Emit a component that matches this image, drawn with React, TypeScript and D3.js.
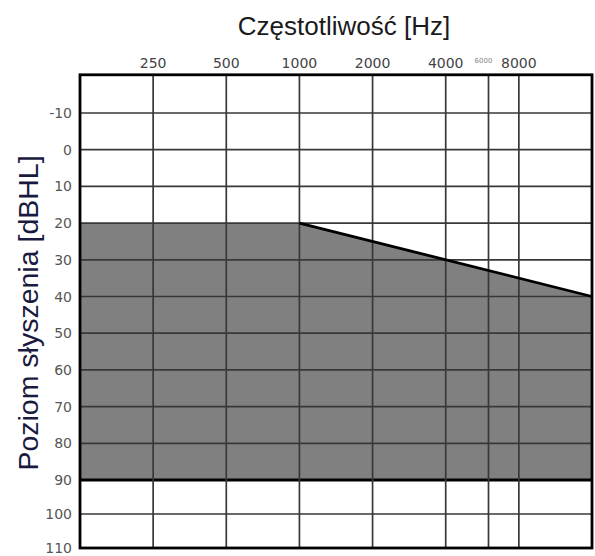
import React from "react";
import * as d3 from "d3";

const freqTicks = [250, 500, 1000, 2000, 4000, 6000, 8000];
const freqLabels = ["250", "500", "1000", "2000", "4000", "6000", "8000"];
const dbTicks = [-10, 0, 10, 20, 30, 40, 50, 60, 70, 80, 90, 100, 110];
const thresholdFreq = [125, 1000, 16000];
const thresholdDb = [20, 20, 40];
const lowerLimitDb = 90;
const freqDomain = [125, 16000];
const dbDomain = [-20, 110];

const W = 595;
const H = 556;

export default function App() {
  const x = d3.scaleLog().domain(freqDomain).range([80, 592]);
  const y = d3.scaleLinear().domain([-10, 90, 110]).range([113, 480, 548]);

  const top = y(dbDomain[0]) - 1.5;
  const bottom = y(dbDomain[1]);
  const left = x(freqDomain[0]);
  const right = x(freqDomain[1]);

  const pts = thresholdFreq.map((f, i) => [f, thresholdDb[i]] as [number, number]);
  const area = d3
    .area<[number, number]>()
    .x((d) => x(d[0]))
    .y0(() => y(lowerLimitDb))
    .y1((d) => y(d[1]));
  const line = d3
    .line<[number, number]>()
    .x((d) => x(d[0]))
    .y((d) => y(d[1]));

  const gridColor = "#383838";

  return (
    <svg
      width={W}
      height={H}
      style={{ position: "absolute", left: 0, top: 0, background: "#fff" }}
    >
      <rect x={0} y={0} width={W} height={H} fill="#fff" />
      <path d={area(pts) || ""} fill="#808080" />
      {dbTicks
        .filter((t) => t > dbDomain[0] && t < dbDomain[1])
        .map((t) => (
          <line
            key={"h" + t}
            x1={left}
            x2={right}
            y1={y(t)}
            y2={y(t)}
            stroke={t === lowerLimitDb ? "#000" : gridColor}
            strokeWidth={t === lowerLimitDb ? 2.8 : 1.7}
          />
        ))}
      {freqTicks.map((f) => (
        <line
          key={"v" + f}
          x1={x(f)}
          x2={x(f)}
          y1={top}
          y2={bottom}
          stroke={gridColor}
          strokeWidth={1.7}
        />
      ))}
      <path
        d={line(pts.slice(1)) || ""}
        fill="none"
        stroke="#000"
        strokeWidth={2.8}
      />
      <rect
        x={left}
        y={top}
        width={right - left}
        height={bottom - top}
        fill="none"
        stroke="#000"
        strokeWidth={2.8}
      />
      {freqTicks.map((f, i) =>
        f === 6000 ? (
          <text
            key={"fl" + f}
            x={x(f) - 5}
            y={63}
            textAnchor="middle"
            fontFamily="DejaVu Sans"
            fontSize={7}
            fill="#888"
          >
            {freqLabels[i]}
          </text>
        ) : (
          <text
            key={"fl" + f}
            x={x(f)}
            y={68}
            textAnchor="middle"
            fontFamily="DejaVu Sans"
            fontSize={14}
            fill="#444"
          >
            {freqLabels[i]}
          </text>
        )
      )}
      {dbTicks.map((t) => (
        <text
          key={"dl" + t}
          x={72}
          y={y(t)}
          dy="0.36em"
          textAnchor="end"
          fontFamily="DejaVu Sans"
          fontSize={14}
          fill="#555"
        >
          {t}
        </text>
      ))}
      <text
        x={344}
        y={35}
        textAnchor="middle"
        fontFamily="Liberation Sans, Arial, sans-serif"
        fontSize={26}
        fill="#1a1a1a"
      >
        Częstotliwość [Hz]
      </text>
      <text
        transform={`translate(38, 313) rotate(-90)`}
        textAnchor="middle"
        fontFamily="Liberation Sans, Arial, sans-serif"
        fontSize={28.5}
        fill="#1a1a40"
      >
        Poziom słyszenia [dBHL]
      </text>
    </svg>
  );
}
